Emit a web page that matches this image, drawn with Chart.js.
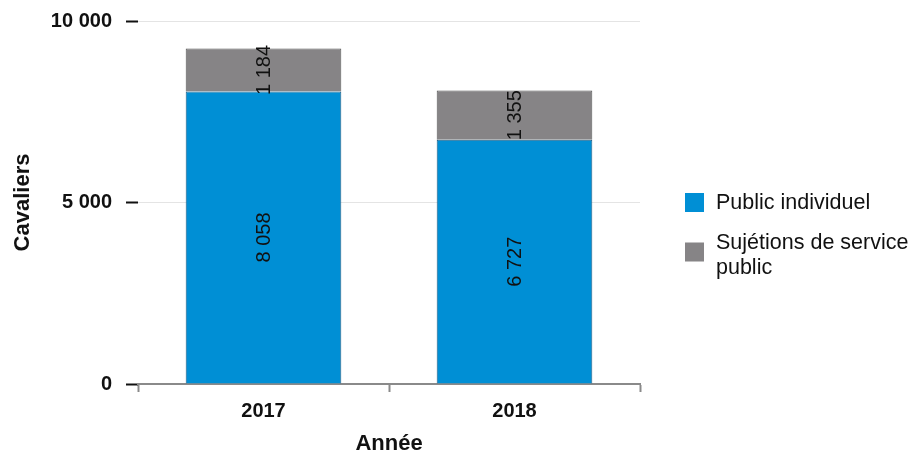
<!DOCTYPE html>
<html>
<head>
<meta charset="utf-8">
<script src="https://cdn.jsdelivr.net/npm/chart.js@4"></script>
<style>
  html, body { margin: 0; padding: 0; background: #fff; }
  #wrap { width: 917px; height: 454px; position: relative; }
</style>
</head>
<body>
<div id="wrap"><canvas id="myChart" width="917" height="454"></canvas></div>
<script>
var years = ['2017', '2018'];
var publicIndividuel = [8058, 6727];
var sujetions = [1184, 1355];
var seriesNames = [['Public individuel'], ['Sujétions de service', 'public']];
var yTicks = [0, 5000, 10000];

function fmt(v) {
  return String(v).replace(/\B(?=(\d{3})+(?!\d))/g, ' ');
}

// values written inside each bar segment, turned on their side
var segmentLabels = {
  id: 'segmentLabels',
  afterDatasetsDraw: function(chart) {
    var ctx = chart.ctx;
    ctx.save();
    ctx.font = '20px "Liberation Sans", Arial, sans-serif';
    ctx.fillStyle = '#111';
    ctx.textAlign = 'center';
    ctx.textBaseline = 'middle';
    chart.data.datasets.forEach(function(ds, i) {
      chart.getDatasetMeta(i).data.forEach(function(bar, j) {
        var mid = (bar.y + bar.base) / 2;
        ctx.save();
        ctx.translate(bar.x, mid);
        ctx.rotate(-Math.PI / 2);
        ctx.fillText(fmt(ds.data[j]), 0, 1);
        ctx.restore();
      });
    });
    ctx.restore();
  }
};

// legend at the right, with wrapped names
var sideLegend = {
  id: 'sideLegend',
  afterDraw: function(chart) {
    var ctx = chart.ctx;
    ctx.save();
    ctx.font = '21.5px "Liberation Sans", Arial, sans-serif';
    ctx.textBaseline = 'middle';
    var y = 203;
    chart.data.datasets.forEach(function(ds, i) {
      var lines = seriesNames[i];
      var h = (lines.length - 1) * 25;
      ctx.fillStyle = ds.backgroundColor;
      ctx.fillRect(685, y + h / 2 - (lines.length > 1 ? 13 : 10), 19, 19);
      ctx.fillStyle = '#111';
      lines.forEach(function(t, k) {
        ctx.fillText(t, 716, y + k * 25);
      });
      y += h + 40;
    });
    ctx.restore();
  }
};

var ctx = document.getElementById('myChart').getContext('2d');
var myChart = new Chart(ctx, {
  type: 'bar',
  data: {
    labels: years,
    datasets: [{
      label: 'Public individuel',
      data: publicIndividuel,
      backgroundColor: '#008fd5',
      borderColor: '#1b5b82',
      borderWidth: 1
    }, {
      label: 'Sujétions de service public',
      data: sujetions,
      backgroundColor: '#868486',
      borderColor: '#555555',
      borderWidth: 1
    }]
  },
  options: {
    responsive: false,
    animation: false,
    layout: { padding: { top: 0, right: 277, left: 0, bottom: 0 } },
    plugins: {
      legend: { display: false },
      tooltip: { enabled: false }
    },
    datasets: {
      bar: { categoryPercentage: 1, barPercentage: 0.62 }
    },
    scales: {
      x: {
        stacked: true,
        afterFit: function(s) { s.height = 70; },
        border: { display: true, color: '#8a8a8a', width: 2 },
        grid: { offset: true, drawOnChartArea: false, tickLength: 8, tickColor: '#8a8a8a', tickWidth: 2 },
        ticks: { color: '#111', padding: 7, font: { family: '"Liberation Sans", Arial, sans-serif', size: 20, weight: 'bold' } },
        title: { display: true, text: 'Année', color: '#111', padding: { top: 4, bottom: -3 },
          font: { family: '"Liberation Sans", Arial, sans-serif', size: 22, weight: 'bold' } }
      },
      y: {
        stacked: true,
        min: 0,
        max: 10000,
        afterFit: function(s) { s.width = 138; s.paddingTop = 21; s.paddingBottom = 0; },
        afterBuildTicks: function(s) { s.ticks = yTicks.map(function(v) { return { value: v }; }); },
        border: { display: false },
        grid: { color: '#e4e4e4', lineWidth: 1, tickLength: 12, tickColor: '#111', tickWidth: 2 },
        ticks: { color: '#111', padding: 14, callback: function(v) { return fmt(v); },
          font: { family: '"Liberation Sans", Arial, sans-serif', size: 20, weight: 'bold' } },
        title: { display: true, text: 'Cavaliers', color: '#111', padding: { top: 10, bottom: 0 },
          font: { family: '"Liberation Sans", Arial, sans-serif', size: 22, weight: 'bold' } }
      }
    }
  },
  plugins: [segmentLabels, sideLegend]
});
</script>
</body>
</html>
